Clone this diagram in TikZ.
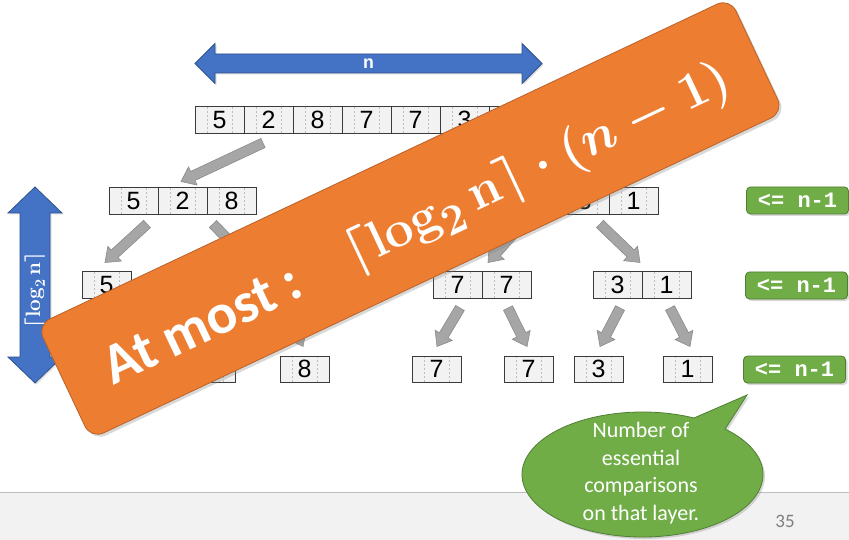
\documentclass[tikz,border=0pt]{standalone}
\usepackage{fontspec}
\usepackage{amsmath}
\usetikzlibrary{calc,shapes.callouts,shadows}
\newfontfamily\calibfont{Carlito}
\newfontfamily\arialfont{Liberation Sans}
\newfontfamily\courfont{Liberation Mono}

\definecolor{cellfill}{HTML}{F2F2F2}
\definecolor{cellline}{HTML}{3A3A3A}
\definecolor{celldashc}{HTML}{BDBDBD}
\definecolor{gfill}{HTML}{A6A6A6}
\definecolor{gedge}{HTML}{8A8A8A}
\definecolor{bluefill}{HTML}{4472C4}
\definecolor{blueedge}{HTML}{2F528F}
\definecolor{greenfill}{HTML}{70AD47}
\definecolor{greenedge}{HTML}{507E32}
\definecolor{orangefill}{HTML}{ED7D31}
\definecolor{orangeedge}{HTML}{B9622A}
\definecolor{footfill}{HTML}{F2F2F2}
\definecolor{footline}{HTML}{BFBFBF}
\definecolor{pagegray}{HTML}{7F7F7F}

\tikzset{
  cell/.style={draw=cellline, line width=1pt, fill=cellfill,
    minimum width=49pt, minimum height=26.5pt, inner sep=0pt,
    font=\arialfont\fontsize{25}{25}\selectfont,
    path picture={
      \draw[celldash] ([xshift=12pt]path picture bounding box.north west)
        -- ([xshift=12pt]path picture bounding box.south west);
      \draw[celldash] ([xshift=-12pt]path picture bounding box.north east)
        -- ([xshift=-12pt]path picture bounding box.south east);}},
  celldash/.style={draw=celldashc, line width=0.6pt, dash pattern=on 2pt off 2pt},
  garrow/.style={fill=gfill, draw=gedge, line width=0.6pt, line join=miter},
  bluearrow/.style={fill=bluefill, draw=blueedge, line width=0.8pt,
    drop shadow={opacity=0.25, shadow xshift=1.5pt, shadow yshift=-1.5pt}},
  countlabel/.style={fill=greenfill, draw=greenedge, line width=0.8pt,
    rounded corners=4pt, minimum width=102pt, minimum height=27pt, inner sep=0pt,
    text=white, font=\courfont\bfseries\fontsize{22}{22}\selectfont,
    drop shadow={opacity=0.3, shadow xshift=2pt, shadow yshift=-2pt}},
  band/.style={fill=orangefill, draw=orangeedge, line width=0.8pt,
    rounded corners=14pt, inner sep=0pt,
    drop shadow={opacity=0.3, shadow xshift=2.5pt, shadow yshift=-2.5pt}},
  bandtext/.style={text=white, inner sep=0pt},
  bubble/.style={ellipse callout, fill=greenfill, draw=greenedge, line width=0.8pt,
    minimum width=241pt, minimum height=125pt, inner sep=0pt,
    callout pointer arc=18,
    drop shadow={opacity=0.3, shadow xshift=2pt, shadow yshift=-2pt}},
  bubbletext/.style={text=white, align=center, inner sep=0pt,
    font=\calibfont\fontsize{22}{27.5}\selectfont},
}

% one row of cells: name, left x, top y (downwards), values
\newcommand\cellrow[4]{%
  \foreach \v [count=\i] in {#4} {
    \node[cell] (#1-\i) at ({#2+(\i-0.5)*49},{-(#3)-13.25}) {\v};
  }}

% thick block arrow from tail point to tip point
\newcommand\grayarrow[2]{%
  \path[garrow] let \p1=#1, \p2=#2,
    \n1={atan2(\y2-\y1,\x2-\x1)}, \n2={veclen(\x2-\x1,\y2-\y1)-13} in
    ($(\p1)+(\n1+90:5pt)$) -- ++(\n1:\n2) -- ++(\n1+90:5pt) -- (\p2)
    -- ($(\p2)+(\n1+180:13pt)+(\n1-90:10pt)$) -- ++(\n1+90:5pt)
    -- ($(\p1)+(\n1-90:5pt)$) -- cycle;}

\begin{document}
\begin{tikzpicture}[x=1pt,y=1pt]
\useasboundingbox (0,0) rectangle (849,-540);
\fill[white] (0,0) rectangle (849,-540);

% footer strip
\fill[footfill] (0,-492) rectangle (849,-540);
\draw[footline, line width=1pt] (0,-492) -- (849,-492);
\node[text=pagegray, font=\calibfont\fontsize{19}{19}\selectfont] (page) at (785,-521) {35};

% the recursion tree of arrays
\cellrow{top}{195}{107}{5,2,8,7,7,3,1}
\cellrow{la}{109}{188}{5,2,8}
\cellrow{lb}{462}{188}{7,7,3,1}
\cellrow{ma}{82}{272}{5}
\cellrow{mb}{209}{272}{2,8}
\cellrow{mc}{433}{272}{7,7}
\cellrow{md}{593}{272}{3,1}
\cellrow{sa}{82}{356}{5}
\cellrow{sb}{186}{356}{2}
\cellrow{sc}{280}{356}{8}
\cellrow{sd}{412}{356}{7}
\cellrow{se}{504}{356}{7}
\cellrow{sf}{574}{356}{3}
\cellrow{sg}{663}{356}{1}

% splitting arrows
\grayarrow{($(top-2.south)+(-5.5,-9)$)}{($(la-2.north)+(-1.5,6)$)}
\grayarrow{($(top-6.south)+(5.5,-9)$)}{($(lb-2.north)+(16.5,6)$)}
\grayarrow{($(la-1.south)+(13.5,-9)$)}{($(ma-1.north)+(-1.5,9)$)}
\grayarrow{($(la-3.south)+(-18.5,-9)$)}{($(mb-1.north)+(16.5,9)$)}
\grayarrow{($(lb-2.south)+(-13.5,-9)$)}{($(mc-2.north)+(-18.5,9)$)}
\grayarrow{($(lb-3.south)+(15.5,-9)$)}{($(md-1.north)+(22.5,9)$)}
\grayarrow{($(ma-1.south)+(0,-9)$)}{($(sa-1.north)+(0,9)$)}
\grayarrow{($(mb-1.south)+(2.5,-9)$)}{($(sb-1.north)+(2.5,9)$)}
\grayarrow{($(mb-2.south)+(1.5,-9)$)}{($(sc-1.north)+(-1.5,9)$)}
\grayarrow{($(mc-1.south)+(2.5,-9)$)}{($(sd-1.north)+(0.5,9)$)}
\grayarrow{($(mc-2.south)+(1.5,-9)$)}{($(se-1.north)+(-1.5,9)$)}
\grayarrow{($(md-1.south)+(2.5,-9)$)}{($(sf-1.north)+(1.5,9)$)}
\grayarrow{($(md-2.south)+(3.5,-9)$)}{($(sg-1.north)+(2.5,9)$)}

% width arrow
\path[bluearrow] (195,-63.5) -- (215,-43.5) -- (215,-54) -- (522,-54) -- (522,-43.5)
  -- (542,-63.5) -- (522,-83.5) -- (522,-73) -- (215,-73) -- (215,-83.5) -- cycle;
\node[text=white, font=\courfont\bfseries\fontsize{18}{18}\selectfont] (nlabel) at (368.5,-64) {n};

% height arrow
\path[bluearrow] (35,-187) -- (62,-213) -- (50,-213) -- (50,-357) -- (62,-357)
  -- (35,-383) -- (8,-357) -- (20,-357) -- (20,-213) -- (8,-213) -- cycle;
\node[rotate=90, text=white, inner sep=0pt, font=\huge\boldmath] (loglabel)
  at (35,-290) {$\lceil\mathbf{log}_{2}\,\mathbf{n}\rceil$};

% comparisons per layer
\node[countlabel] (c1) at (797.5,-200.5) {<= n-1};
\node[countlabel] (c2) at (796.5,-285.5) {<= n-1};
\node[countlabel] (c3) at (794.5,-369.5) {<= n-1};

% banner with the bound
\node[band, rotate=25.26, minimum width=766pt, minimum height=126pt] (banner) at (410.4,-218.5) {};
\node[bandtext, rotate=25.26, font=\calibfont\bfseries\fontsize{57}{60}\selectfont] (atmost)
  at (202,-324) {At most :};
\node[bandtext, rotate=25.26, scale=2.07, font=\Huge\boldmath] (bound)
  at (538,-168) {$\lceil \mathbf{log}_{2}\,\mathbf{n}\rceil\cdot(n-1)$};

% speech bubble
\node[bubble, callout absolute pointer={(747,-395)}] (bub) at (642.5,-474.5) {};
\node[bubbletext] (bubtext) at (641,-473) {Number of\\essential\\comparisons\\on that layer.};
\end{tikzpicture}
\end{document}
